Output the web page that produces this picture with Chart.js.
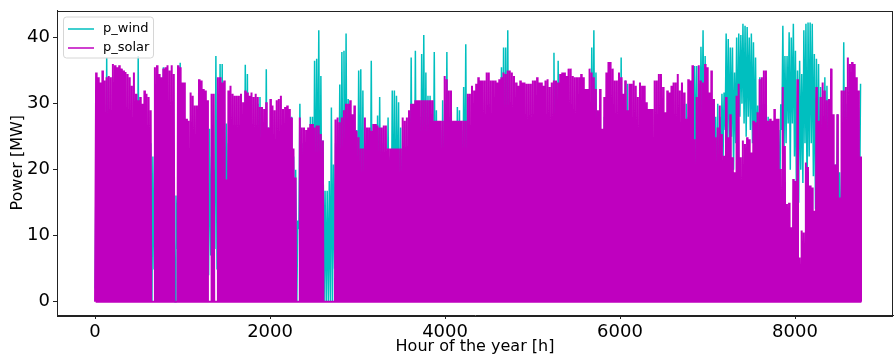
<!DOCTYPE html>
<html>
<head>
<meta charset="utf-8">
<script src="https://cdn.jsdelivr.net/npm/chart.js@4.4.1/dist/chart.umd.min.js"></script>
<style>
  html, body { margin: 0; padding: 0; background: #fff; }
</style>
</head>
<body>
<canvas id="chart" width="894" height="357"></canvas>
<script>
// Series names, ticks
const seriesNames = ['p_wind', 'p_solar'];
const xTicks = [0, 2000, 4000, 6000, 8000];
const yTicks = [0, 10, 20, 30, 40];

// Daily peak of solar power [MW], day 0..364
const solarPeak = [
  34.7, 34.0, 33.2, 35.0, 33.5, 34.0, 34.2, 34.0, 36.0, 35.8,
  35.5, 35.8, 35.3, 35.0, 34.8, 34.5, 34.0, 32.7, 34.7, 31.5,
  30.5, 31.0, 30.0, 32.0, 31.5, 31.0, 29.0, 0, 35.5, 35.8,
  34.5, 34.0, 35.3, 35.5, 35.8, 35.0, 35.8, 34.5, 0, 35.8,
  35.5, 33.2, 33.2, 27.7, 27.4, 31.7, 31.2, 29.7, 29.7, 33.7,
  33.5, 32.2, 32.0, 30.5, 0, 31.5, 31.5, 0, 34.0, 34.0,
  33.2, 33.5, 18.5, 32.0, 32.7, 31.5, 31.2, 31.2, 31.2, 31.5,
  30.2, 32.0, 31.7, 31.2, 31.7, 31.0, 31.5, 31.0, 29.5, 29.5,
  29.2, 30.2, 26.4, 30.7, 29.7, 29.0, 30.5, 30.7, 31.2, 29.2,
  29.5, 29.7, 29.2, 27.9, 23.2, 18.8, 0, 27.9, 26.4, 26.4,
  26.0, 26.4, 26.9, 26.9, 26.4, 26.7, 26.7, 25.4, 24.4, 0,
  0, 0, 0, 0, 27.6, 27.9, 27.2, 27.9, 29.0, 30.0,
  30.0, 30.5, 28.4, 29.7, 25.9, 24.9, 23.2, 23.2, 27.9, 26.4,
  26.4, 25.9, 26.9, 26.9, 26.7, 26.4, 26.4, 26.7, 26.7, 23.2,
  23.2, 23.2, 23.2, 23.2, 23.2, 23.2, 27.9, 27.4, 27.9, 29.0,
  30.0, 30.0, 30.5, 30.5, 30.5, 30.5, 30.5, 30.5, 30.5, 30.5,
  30.5, 27.4, 27.4, 27.4, 27.4, 27.4, 34.2, 33.7, 32.0, 32.0,
  27.4, 27.4, 27.4, 27.4, 27.4, 27.4, 27.4, 31.5, 31.5, 32.7,
  32.0, 33.0, 34.0, 33.5, 33.5, 33.5, 34.7, 34.7, 33.5, 33.5,
  33.5, 33.2, 33.7, 34.0, 34.7, 34.5, 35.0, 35.0, 34.7, 34.2,
  33.2, 32.7, 33.5, 33.2, 33.2, 33.0, 33.0, 33.0, 33.5, 33.5,
  34.0, 33.2, 33.2, 32.7, 33.5, 33.7, 32.5, 33.2, 33.5, 33.5,
  33.2, 34.5, 34.7, 34.7, 34.2, 35.3, 35.3, 34.2, 34.0, 34.0,
  34.0, 34.5, 34.0, 32.2, 32.2, 35.3, 34.7, 34.0, 32.2, 29.0,
  32.2, 26.2, 31.0, 34.7, 36.3, 36.3, 35.3, 33.5, 33.5, 34.7,
  34.0, 31.5, 33.5, 29.0, 33.0, 33.0, 33.5, 32.7, 31.0, 33.2,
  32.7, 32.7, 30.2, 29.2, 29.2, 29.2, 33.5, 33.5, 34.5, 34.5,
  32.5, 28.7, 32.0, 31.7, 32.7, 33.2, 33.2, 34.5, 32.0, 33.2,
  31.7, 27.7, 33.7, 33.5, 35.8, 24.6, 31.0, 35.8, 33.5, 33.2,
  36.0, 35.5, 31.7, 35.0, 30.7, 24.9, 26.4, 29.7, 25.4, 22.1,
  31.0, 24.9, 28.4, 21.9, 19.6, 31.2, 33.0, 21.9, 24.4, 23.9,
  24.9, 24.6, 22.6, 27.4, 27.2, 28.7, 33.7, 34.0, 35.0, 35.0,
  27.4, 27.7, 27.4, 29.2, 27.7, 27.7, 20.1, 32.5, 23.6, 14.8,
  15.0, 11.3, 18.6, 18.3, 33.7, 6.7, 10.8, 10.5, 21.1, 20.4,
  17.6, 17.3, 13.8, 32.5, 27.4, 31.0, 33.2, 32.0, 30.5, 30.7,
  35.3, 28.4, 20.8, 28.4, 15.8, 32.0, 32.0, 32.5, 37.0, 36.0,
  36.3, 36.0, 34.0, 32.0, 22.0
];

// Daily high of wind power [MW]
const windHigh = [
  26.6, 22, 18, 20, 25, 37.0, 28, 24, 20, 18,
  15, 22, 26, 30, 24, 18, 20, 25, 28, 29,
  37.2, 26, 22, 18, 15, 20, 24, 22.0, 26, 20,
  18, 24, 35.5, 28, 22, 20, 18, 14, 16.1, 20,
  36.2, 30, 25, 22, 18, 24, 20, 16, 22, 26,
  28, 24, 20, 18, 26.2, 22, 20, 37.2, 28, 36.0,
  36.0, 30, 27.0, 24, 20, 22, 26, 24, 18, 20,
  24, 35.9, 34.5, 28, 24, 22, 26, 30, 31.0, 26,
  22, 35.2, 26.4, 24, 20, 22, 24, 20, 18, 22,
  24, 26, 28, 28.0, 22, 20, 12.3, 30.0, 24, 20,
  22, 24, 28.0, 28.0, 36.5, 36.8, 41.1, 34.2, 24.4, 16.8,
  16.8, 18.3, 29.4, 20.8, 24, 26, 32.9, 37.8, 38.0, 40.6,
  30.7, 26, 22, 26, 26.0, 35.0, 35.2, 32.0, 24, 22,
  26, 36.5, 24, 22, 28.2, 31.0, 24, 22, 20, 27.9,
  22, 32.0, 32.0, 31.2, 30.2, 26.4, 24, 20, 22, 26,
  37.0, 28, 38.0, 26, 28, 37.5, 40.4, 34.7, 31.2, 31.2,
  26, 37.8, 29.0, 24, 26, 30.5, 30, 37.8, 28, 26,
  22, 24, 29.5, 29.0, 26, 32.5, 39.0, 31.0, 26, 24,
  22, 26, 30, 28, 24, 20, 26, 30, 28, 24,
  22, 26, 30, 35.5, 38.5, 38.5, 41.1, 30, 26, 22,
  20, 24, 26, 22, 18, 20, 24, 28, 26, 22,
  20, 24, 26, 28, 22, 20, 24, 26, 37.7, 30,
  36.5, 28, 24, 20, 22, 26, 28, 24, 20, 22,
  24, 26, 22, 20, 24, 28, 38.5, 41.1, 34.7, 26,
  24, 22, 28, 26, 24, 20, 22, 26, 28, 24,
  37.0, 28, 33.5, 33.0, 26, 24, 20, 22, 26, 24,
  22, 20, 24, 26, 28, 24, 22, 26, 24, 20,
  22, 26, 24, 20, 22, 24, 26, 28, 24, 22,
  26, 30, 28, 26, 30, 35.7, 35.7, 33.0, 38.6, 41.1,
  37.2, 34, 30, 28, 26, 28, 30, 28, 31.5, 31.7,
  40.6, 39.8, 38.5, 38.5, 34.7, 40.0, 40.6, 40.4, 42.1, 41.8,
  41.6, 40.0, 40.6, 39.3, 37.0, 29.7, 34.0, 30, 28, 30.7,
  28.0, 26, 24, 26, 24, 26, 29.9, 41.8, 37.2, 37.2,
  40.8, 40.0, 42.1, 38.0, 35.0, 36.5, 34.5, 41.1, 42.1, 42.3,
  42.3, 42.1, 37.5, 36.8, 36.0, 32.5, 28.0, 34.0, 32.7, 30.0,
  32.0, 20.0, 20.8, 28.4, 19.6, 19.6, 39.3, 30, 28, 26,
  24, 26, 28, 29.4, 33.0
];

// Daily low of wind power [MW]
const windLow = [
  2, 5, 8, 3, 10, 6, 4, 12, 7, 3,
  9, 5, 2, 11, 6, 8, 4, 10, 3, 7,
  5, 9, 2, 6, 12, 4, 8, 0, 5, 10,
  3, 7, 11, 4, 6, 9, 2, 5, 0, 8,
  12, 4, 6, 3, 9, 7, 2, 10, 5, 8,
  4, 11, 6, 3, 4, 7, 9, 8, 5, 12,
  6, 3, 10, 8, 4, 2, 9, 6, 11, 5,
  3, 10, 7, 4, 8, 12, 5, 9, 6, 2,
  8, 11, 4, 6, 3, 9, 7, 5, 10, 2,
  6, 9, 4, 8, 3, 5, 0, 11, 7, 4,
  9, 6, 12, 3, 8, 10, 14, 7, 4, 0,
  0, 0, 0, 0, 5, 9, 12, 8, 15, 11,
  6, 3, 9, 5, 8, 12, 10, 6, 4, 9,
  7, 11, 3, 8, 5, 10, 6, 4, 9, 12,
  5, 10, 8, 6, 11, 4, 7, 9, 3, 6,
  12, 8, 14, 5, 9, 11, 15, 10, 6, 8,
  4, 13, 9, 6, 3, 8, 5, 12, 7, 4,
  9, 6, 11, 8, 3, 10, 14, 7, 5, 9,
  4, 8, 6, 11, 3, 7, 9, 5, 10, 6,
  3, 8, 12, 9, 14, 11, 16, 7, 4, 6,
  9, 3, 7, 5, 10, 4, 8, 6, 11, 3,
  7, 5, 9, 4, 8, 6, 3, 10, 13, 7,
  11, 4, 8, 6, 3, 9, 5, 7, 10, 4,
  6, 9, 3, 8, 5, 11, 15, 17, 12, 6,
  4, 8, 10, 5, 7, 3, 9, 6, 11, 4,
  13, 8, 12, 9, 5, 7, 3, 6, 10, 4,
  8, 5, 9, 3, 7, 11, 4, 6, 10, 5,
  3, 8, 6, 10, 4, 7, 9, 5, 11, 6,
  8, 12, 9, 6, 14, 18, 20, 15, 22, 25,
  18, 14, 10, 8, 12, 15, 11, 9, 20, 22,
  26, 24, 22, 25, 20, 24, 22, 28, 30, 27,
  25, 28, 26, 24, 22, 18, 16, 12, 10, 14,
  12, 9, 8, 11, 6, 10, 14, 26, 22, 24,
  27, 20, 27, 22, 12, 15, 20, 18, 24, 16,
  22, 24, 19, 14, 16, 12, 8, 11, 9, 6,
  10, 4, 8, 12, 6, 5, 15, 9, 7, 4,
  8, 11, 6, 9, 14
];

// hourly points: solar rises and falls each day, wind swings between low and high
const solarPts = [{x: 0, y: 0}];
solarPeak.forEach((p, d) => {
  solarPts.push({x: d * 24 + 6, y: 0}, {x: d * 24 + 12, y: p}, {x: d * 24 + 18, y: 0});
});
solarPts.push({x: 8759, y: 0});

const windPts = [];
windHigh.forEach((h, d) => {
  windPts.push({x: d * 24 + 2, y: windLow[d]}, {x: d * 24 + 13, y: h});
});

Chart.defaults.font.family = '"DejaVu Sans", sans-serif';
Chart.defaults.color = '#000';

// top and right spines like the matplotlib frame
const framePlugin = {
  id: 'frame',
  afterDatasetsDraw(chart) {
    const {ctx, chartArea: a} = chart;
    ctx.save();
    ctx.strokeStyle = '#222';
    ctx.lineWidth = 1;
    ctx.strokeRect(Math.round(a.left) + 0.5, Math.round(a.top) + 0.5,
      Math.round(a.right - a.left) - 1, Math.round(a.bottom - a.top));
    ctx.restore();
  }
};

// boxed legend in the upper left corner
const boxLegend = {
  id: 'boxLegend',
  afterDraw(chart) {
    const {ctx, chartArea: a} = chart;
    const x = a.left + 6, y = a.top + 6, w = 90, h = 41;
    ctx.save();
    ctx.beginPath();
    ctx.roundRect(x + 0.5, y + 0.5, w, h, 3);
    ctx.fillStyle = 'rgba(255,255,255,0.8)';
    ctx.fill();
    ctx.strokeStyle = '#d6d6d6';
    ctx.lineWidth = 1;
    ctx.stroke();
    chart.data.datasets.forEach((ds, i) => {
      const ly = y + 12.5 + i * 19;
      ctx.strokeStyle = ds.borderColor;
      ctx.lineWidth = 1.5;
      ctx.beginPath();
      ctx.moveTo(x + 5, ly);
      ctx.lineTo(x + 31, ly);
      ctx.stroke();
      ctx.fillStyle = '#000';
      ctx.font = '13px "DejaVu Sans"';
      ctx.textBaseline = 'middle';
      ctx.fillText(ds.label, x + 40, ly);
    });
    ctx.restore();
  }
};

new Chart(document.getElementById('chart'), {
  type: 'line',
  data: {
    datasets: [
      { label: seriesNames[0], data: windPts, borderColor: '#00bfbf', borderWidth: 1.5,
        pointRadius: 0, fill: false, tension: 0, order: 1 },
      { label: seriesNames[1], data: solarPts, borderColor: '#bf00bf', borderWidth: 2,
        pointRadius: 0, fill: false, tension: 0, order: 0 }
    ]
  },
  options: {
    responsive: false,
    animation: false,
    parsing: false,
    normalized: true,
    layout: { padding: { top: 0, right: 1, left: 0, bottom: 0 } },
    plugins: { legend: { display: false }, tooltip: { enabled: false } },
    scales: {
      x: {
        type: 'linear', min: -435, max: 9120,
        afterBuildTicks: s => { s.ticks = xTicks.map(v => ({value: v})); },
        afterFit: s => { s.height = 42; },
        ticks: { font: { size: 18 }, padding: 3, autoSkip: false, maxRotation: 0, callback: v => String(v) },
        grid: { drawOnChartArea: false, tickLength: 4, color: '#222' },
        border: { color: '#222' },
        title: { display: true, text: 'Hour of the year [h]', font: { size: 16 }, padding: { top: 0, bottom: 1 } }
      },
      y: {
        type: 'linear', min: -2.0, max: 44.1,
        afterBuildTicks: s => { s.ticks = yTicks.map(v => ({value: v})); },
        afterFit: s => { s.width = 57; s.paddingTop = 10.5; s.paddingBottom = 0; },
        ticks: { font: { size: 18 }, padding: 3, callback: v => String(v) },
        grid: { drawOnChartArea: false, tickLength: 4, color: '#222' },
        border: { color: '#222' },
        title: { display: true, text: 'Power [MW]', font: { size: 16 }, padding: { top: 8, bottom: 0 } }
      }
    }
  },
  plugins: [framePlugin, boxLegend]
});
</script>
</body>
</html>
